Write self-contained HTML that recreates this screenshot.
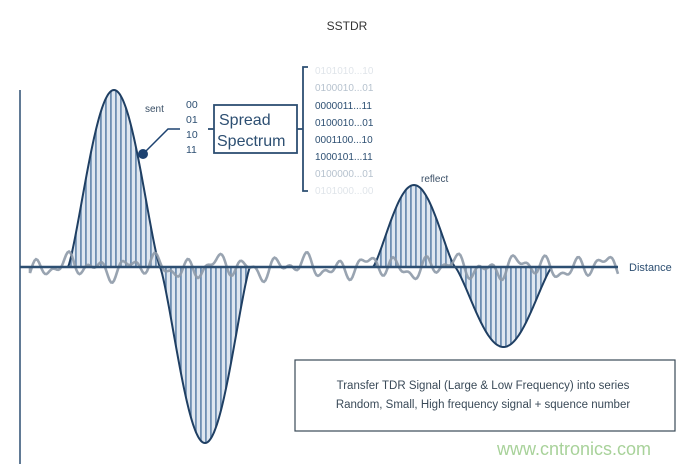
<!DOCTYPE html>
<html><head><meta charset="utf-8"><style>
html,body{margin:0;padding:0;background:#fff;}
svg{display:block;font-family:"Liberation Sans",Arial,sans-serif;}
</style></head><body>
<svg id="s" width="682" height="464" viewBox="0 0 682 464" xmlns="http://www.w3.org/2000/svg">
<defs>
<pattern id="st" width="5" height="10" patternUnits="userSpaceOnUse">
<rect width="5" height="10" fill="#dfe7f0"/>
<rect x="0" y="0" width="1.8" height="10" fill="#6f8fb2"/>
</pattern>
</defs>
<text x="347" y="30" font-size="12" fill="#333" text-anchor="middle">SSTDR</text>
<g id="lobes"></g>
<path id="noise" fill="none" stroke="#8e9aa8" stroke-width="2.6" opacity="0.9"/>
<line x1="20" y1="267" x2="618" y2="267" stroke="#2d4f72" stroke-width="2.5"/>
<line x1="20" y1="90" x2="20" y2="464" stroke="#2d4f72" stroke-width="1.5"/>
<text x="629" y="271" font-size="11" fill="#2d4f72">Distance</text>
<text x="145" y="112" font-size="10" fill="#3a4f66">sent</text>
<text x="421" y="182" font-size="10" fill="#3a4f66">reflect</text>
<g font-size="10.5" fill="#2d4f72">
<text x="186" y="108">00</text><text x="186" y="123">01</text><text x="186" y="138">10</text><text x="186" y="153">11</text>
</g>
<circle cx="143" cy="154" r="5" fill="#1d4270"/>
<polyline points="143,154 168,129 180,129" fill="none" stroke="#1d4270" stroke-width="1.5"/>
<rect x="214" y="105" width="83" height="48" fill="#fff" stroke="#2d4f72" stroke-width="1.8"/>
<line x1="208" y1="129" x2="214" y2="129" stroke="#2d4f72" stroke-width="1.8"/>
<line x1="297" y1="129" x2="303" y2="129" stroke="#2d4f72" stroke-width="1.8"/>
<text x="219" y="125" font-size="16" fill="#2d4f72">Spread</text>
<text x="217" y="146" font-size="16" fill="#2d4f72">Spectrum</text>
<polyline points="308,67 303,67 303,191 308,191" fill="none" stroke="#2d4f72" stroke-width="1.8"/>
<g font-size="10" fill="#2d4f72">
<text x="315" y="74" opacity="0.15">0101010...10</text>
<text x="315" y="91" opacity="0.35">0100010...01</text>
<text x="315" y="109">0000011...11</text>
<text x="315" y="126">0100010...01</text>
<text x="315" y="143">0001100...10</text>
<text x="315" y="160">1000101...11</text>
<text x="315" y="177" opacity="0.35">0100000...01</text>
<text x="315" y="194" opacity="0.15">0101000...00</text>
</g>
<rect x="295" y="360" width="380" height="71" fill="#fff" stroke="#3a4a58" stroke-width="1.2"/>
<text x="483" y="389" font-size="11.5" fill="#3a4a58" text-anchor="middle">Transfer TDR Signal (Large &amp; Low Frequency) into series</text>
<text x="483" y="408" font-size="11.5" fill="#3a4a58" text-anchor="middle">Random, Small, High frequency signal + squence number</text>
<text x="574" y="455" font-size="18" fill="#a8d29a" text-anchor="middle">www.cntronics.com</text>
</svg>
<script>
var B=267;
function lobe(x0,x1,amp){var d="M"+x0+","+B;for(var x=x0;x<=x1;x+=1){var t=(x-x0)/(x1-x0);var y=B-amp*Math.pow(Math.sin(Math.PI*t),1.25);d+=" L"+x+","+y.toFixed(1);}return d+" L"+x1+","+B+" Z";}
var L=[[68,160,177],[160,250,-176],[373,455,82],[455,552,-80]];
var g=document.getElementById("lobes"),h="";
L.forEach(function(l){var d=lobe(l[0],l[1],l[2]);h+='<path d="'+d+'" fill="url(#st)" stroke="#1f3f63" stroke-width="2"/>';});
g.innerHTML=h;
var d="M30,267";
for(var x=30;x<=618;x+=1.5){var y=B-(Math.sin(x*0.21)*7+Math.sin(x*0.37+1)*5+Math.sin(x*0.083+2)*4);d+=" L"+x+","+y.toFixed(1);}
document.getElementById("noise").setAttribute("d",d);
</script>
</body></html>
